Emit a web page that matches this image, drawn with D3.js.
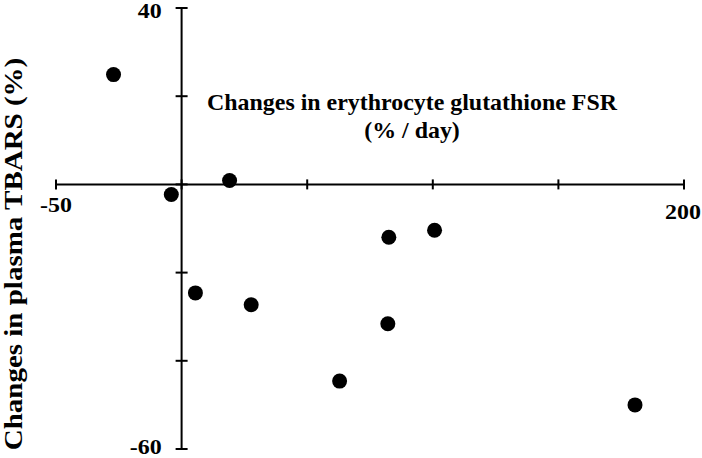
<!DOCTYPE html>
<html>
<head>
<meta charset="utf-8">
<script src="https://cdn.jsdelivr.net/npm/d3@7"></script>
<style>
  body { margin: 0; background: #fff; }
  text { font-family: "Liberation Serif", "Times New Roman", serif; font-weight: bold; fill: #000; }
</style>
</head>
<body>
<div id="chart"></div>
<script>
// FSR change (% / day) vs TBARS change (%)
var fsrChange = [-27.1, -4.1, 19.1, 5.5, 27.7, 82.5, 100.7, 82.1, 62.9, 180.5];
var tbarsChange = [24.9, -2.3, 0.9, -24.6, -27.3, -12.0, -10.4, -31.6, -44.6, -50.0];
var xTicks = [-50, 0, 50, 100, 150, 200];
var yTicks = [-60, -40, -20, 0, 20, 40];
var xTickLabels = [-50, 200];
var yTickLabels = [-60, 40];

var width = 702, height = 458;

var svg = d3.select('#chart')
  .append('svg')
  .attr('width', width)
  .attr('height', height);

var x = d3.scaleLinear().domain([-50, 200]).range([56, 684]);
var y = d3.scaleLinear().domain([-60, 40]).range([449, 8]);

// the original's lettering is a bit wider than Liberation Serif
function stretched(px, py, s) {
  return 'translate(' + px + ',' + py + ') scale(' + s + ',1)';
}

// axes cross at zero
svg.append('line')
  .attr('x1', x(-50)).attr('x2', x(200))
  .attr('y1', y(0)).attr('y2', y(0))
  .attr('stroke', '#000').attr('stroke-width', 2);

svg.append('line')
  .attr('x1', x(0)).attr('x2', x(0))
  .attr('y1', y(40)).attr('y2', y(-60))
  .attr('stroke', '#000').attr('stroke-width', 2);

svg.selectAll('.xtick')
  .data(xTicks)
  .enter().append('line')
  .attr('class', 'xtick')
  .attr('x1', function(d) { return x(d); })
  .attr('x2', function(d) { return x(d); })
  .attr('y1', y(0) - 5).attr('y2', y(0) + 5)
  .attr('stroke', '#000').attr('stroke-width', 2);

svg.selectAll('.ytick')
  .data(yTicks)
  .enter().append('line')
  .attr('class', 'ytick')
  .attr('x1', x(0) - 6).attr('x2', x(0) + 6)
  .attr('y1', function(d) { return y(d); })
  .attr('y2', function(d) { return y(d); })
  .attr('stroke', '#000').attr('stroke-width', 2);

// only the end values are labelled
svg.selectAll('.xlabel')
  .data(xTickLabels)
  .enter().append('text')
  .attr('class', 'xlabel')
  .attr('transform', function(d) { return stretched(x(d) - (d > 0 ? 1 : 0), d < 0 ? 212 : 219, 1.14); })
  .attr('text-anchor', 'middle')
  .style('font-size', '21px')
  .text(function(d) { return d; });

svg.selectAll('.ylabel')
  .data(yTickLabels)
  .enter().append('text')
  .attr('class', 'ylabel')
  .attr('transform', function(d) { return stretched(x(0) - 20, d > 0 ? 18 : 454, 1.14); })
  .attr('text-anchor', 'end')
  .style('font-size', '21px')
  .text(function(d) { return d; });

// x axis title sits inside the plot
svg.append('text')
  .attr('transform', stretched(412, 110, 1.04))
  .attr('text-anchor', 'middle')
  .style('font-size', '23px')
  .text('Changes in erythrocyte glutathione FSR');

svg.append('text')
  .attr('transform', stretched(412, 138, 1.04))
  .attr('text-anchor', 'middle')
  .style('font-size', '23px')
  .text('(% / day)');

svg.append('text')
  .attr('transform', 'translate(22,254) rotate(-90) scale(1.16,1)')
  .attr('text-anchor', 'middle')
  .style('font-size', '25px')
  .text('Changes in plasma TBARS (%)');

svg.selectAll('.dot')
  .data(fsrChange)
  .enter().append('circle')
  .attr('class', 'dot')
  .attr('cx', function(d) { return x(d); })
  .attr('cy', function(d, i) { return y(tbarsChange[i]); })
  .attr('r', 7.5)
  .attr('fill', '#000');
</script>
</body>
</html>
